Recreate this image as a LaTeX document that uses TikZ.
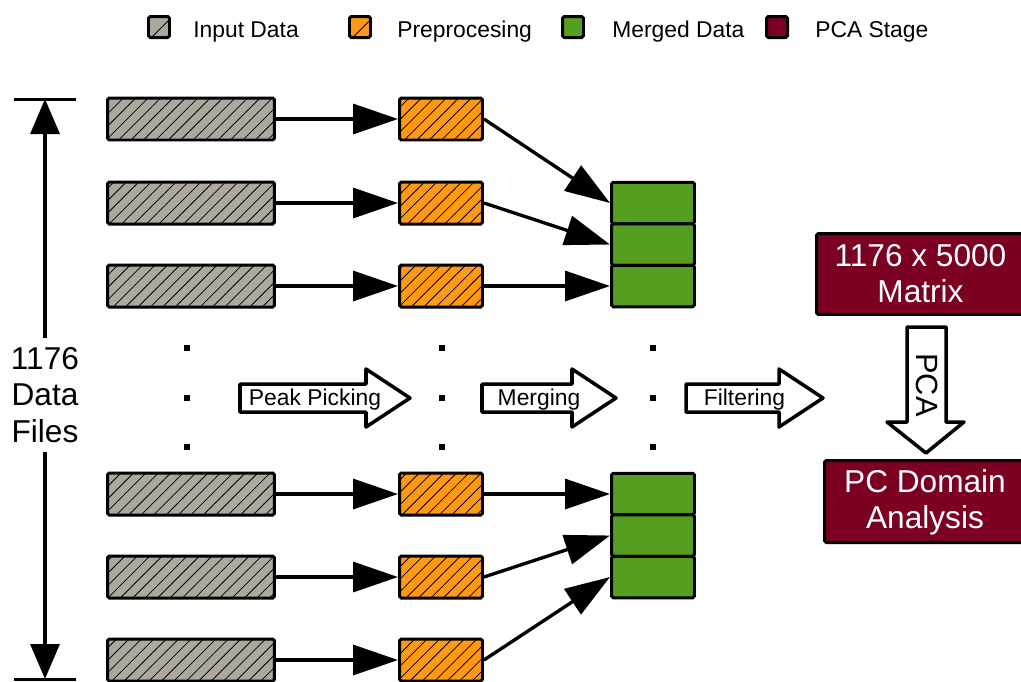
\documentclass[tikz,border=0pt]{standalone}
\usepackage{fontspec}
\setmainfont{Liberation Sans}
\usetikzlibrary{arrows.meta,patterns.meta}
\definecolor{rawgray}{RGB}{172,168,160}
\definecolor{preorange}{RGB}{255,153,20}
\definecolor{mergegreen}{RGB}{85,158,32}
\definecolor{pcared}{RGB}{123,0,33}

\begin{document}
\begin{tikzpicture}[
  x=0.02cm, y=0.02cm,
  box/.style={draw, line width=1.7pt, rounded corners=1pt, inner sep=0pt},
  hatch/.style={postaction={pattern={Lines[angle=45,distance=#1,line width=0.45pt]}}},
  hatch/.default=5pt,
  indata/.style={box, fill=rawgray, hatch, minimum width=3.34cm, minimum height=0.84cm},
  prep/.style={box, fill=preorange, hatch, minimum width=1.66cm, minimum height=0.84cm},
  merged/.style={box, fill=mergegreen, minimum width=1.66cm, minimum height=0.83cm},
  stage/.style={box, fill=pcared, text=white, align=center,
    font=\fontsize{18}{20.5}\selectfont},
  key/.style={box, minimum size=0.42cm},
  keytext/.style={anchor=base west, inner sep=0pt, font=\fontsize{13}{15}\selectfont},
  conn/.style={line width=1.9pt, -{Triangle[length=0.9cm,width=0.6cm]}},
  dim/.style={line width=1.9pt, -{Triangle[length=0.7cm,width=0.58cm]}},
  flow/.style={draw, line width=2pt, line join=round, fill=white},
  flowtext/.style={anchor=base, inner sep=0pt, font=\fontsize{13}{15}\selectfont}
]
  \useasboundingbox (0,0) rectangle (1021,-681);

  % legend
  \node[key, fill=rawgray, hatch=9pt] (kin) at (159,-27){};
  \node[keytext] at (193,-37){Input Data};
  \node[key, fill=preorange, hatch=9pt] (kpre) at (360,-27){};
  \node[keytext] at (397,-37){Preprocesing};
  \node[key, fill=mergegreen] (kmrg) at (573,-27){};
  \node[keytext] at (612,-37){Merged Data};
  \node[key, fill=pcared] (kpca) at (777,-27){};
  \node[keytext] at (815,-37){PCA Stage};

  % data files, preprocessing and merged rows
  \foreach \i/\y/\m in {1/119/203, 2/203/244.5, 3/286/286,
                        4/494/494, 5/577/535.5, 6/660/577} {
    \node[indata] (in\i) at (191,-\y){};
    \node[prep] (pp\i) at (441,-\y){};
    \node[merged] (mg\i) at (653,-\m){};
    \draw[conn] (in\i) -- (pp\i);
    \draw[conn] (pp\i.east) -- (mg\i.west);
  }

  % dots between the two halves
  \foreach \x in {187,442,653} {
    \foreach \y in {348,398,447} {
      \fill (\x-3,-\y-3) rectangle ++(6,6);
    }
  }

  % block arrows for the steps
  \foreach \a/\b/\txt/\n in {240/410/Peak Picking/pick,
                             482/616/Merging/merge,
                             686/823/Filtering/filter} {
    \draw[flow] (\a,-384) -- (\b-44,-384) -- (\b-44,-369) -- (\b,-398)
      -- (\b-44,-427) -- (\b-44,-412) -- (\a,-412) -- cycle;
    \node[flowtext] (\n) at ({(\a+\b)/2-10},-405){\txt};
  }

  % number of files
  \coordinate (dtop) at (45,-99);
  \coordinate (dbot) at (45,-679);
  \draw[line width=1.7pt] (14,-99) -- (76,-99);
  \draw[line width=1.7pt] (14,-679) -- (76,-679);
  \node[align=center, inner sep=5pt, font=\fontsize{18}{21}\selectfont]
    (files) at (45,-395){1176\\Data\\Files};
  \draw[dim] (files) -- (dtop);
  \draw[dim] (files) -- (dbot);

  % PCA stage
  \node[stage, minimum width=4.16cm, minimum height=1.62cm]
    (matrix) at (920.5,-274){1176 x 5000\\Matrix};
  \node[stage, minimum width=4.02cm, minimum height=1.64cm]
    (domain) at (925,-501.5){\strut PC Domain\\Analysis};
  \draw[flow] (907,-327) -- (946,-327) -- (946,-422) -- (964,-422)
    -- (926,-453) -- (887,-422) -- (907,-422) -- cycle;
  \node[rotate=-90, inner sep=0pt, font=\fontsize{17.5}{20}\selectfont]
    (pca) at (927,-385){PCA};
\end{tikzpicture}
\end{document}
